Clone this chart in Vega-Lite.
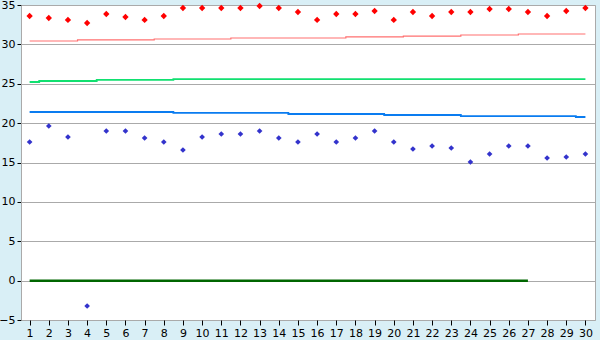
{
  "$schema": "https://vega.github.io/schema/vega-lite/v6.json",
  "autosize": {"type": "none"},
  "width": 574,
  "height": 315,
  "padding": {"left": 21, "top": 5, "right": 5, "bottom": 20},
  "background": "#d9eff6",
  "config": {
    "view": {"fill": "white", "stroke": "#aaaaaa", "strokeWidth": 1},
    "axis": {"labelFont": "DejaVu Sans", "labelFontSize": 11, "labelColor": "#000000", "gridColor": "#aaaaaa", "gridOpacity": 1, "domainColor": "#aaaaaa", "tickColor": "#000000", "title": null, "labelOverlap": false}
  },
  "data": {
    "values": [
      {"day": 1, "high": 33.6, "low": 17.6, "tHigh": 30.43, "tMid": 25.22, "tLow": 21.41, "zero": 0},
      {"day": 2, "high": 33.35, "low": 19.63, "tHigh": 30.43, "tMid": 25.35, "tLow": 21.41, "zero": 0},
      {"day": 3, "high": 33.1, "low": 18.24, "tHigh": 30.43, "tMid": 25.35, "tLow": 21.41, "zero": 0},
      {"day": 4, "high": 32.71, "low": -3.22, "tHigh": 30.56, "tMid": 25.35, "tLow": 21.41, "zero": 0},
      {"day": 5, "high": 33.86, "low": 19.0, "tHigh": 30.56, "tMid": 25.48, "tLow": 21.41, "zero": 0},
      {"day": 6, "high": 33.48, "low": 19.0, "tHigh": 30.56, "tMid": 25.48, "tLow": 21.41, "zero": 0},
      {"day": 7, "high": 33.1, "low": 18.11, "tHigh": 30.56, "tMid": 25.48, "tLow": 21.41, "zero": 0},
      {"day": 8, "high": 33.6, "low": 17.6, "tHigh": 30.68, "tMid": 25.48, "tLow": 21.41, "zero": 0},
      {"day": 9, "high": 34.62, "low": 16.59, "tHigh": 30.68, "tMid": 25.6, "tLow": 21.29, "zero": 0},
      {"day": 10, "high": 34.62, "low": 18.24, "tHigh": 30.68, "tMid": 25.6, "tLow": 21.29, "zero": 0},
      {"day": 11, "high": 34.62, "low": 18.62, "tHigh": 30.68, "tMid": 25.6, "tLow": 21.29, "zero": 0},
      {"day": 12, "high": 34.62, "low": 18.62, "tHigh": 30.81, "tMid": 25.6, "tLow": 21.29, "zero": 0},
      {"day": 13, "high": 34.87, "low": 19.0, "tHigh": 30.81, "tMid": 25.6, "tLow": 21.29, "zero": 0},
      {"day": 14, "high": 34.62, "low": 18.11, "tHigh": 30.81, "tMid": 25.6, "tLow": 21.29, "zero": 0},
      {"day": 15, "high": 34.11, "low": 17.6, "tHigh": 30.81, "tMid": 25.6, "tLow": 21.16, "zero": 0},
      {"day": 16, "high": 33.1, "low": 18.62, "tHigh": 30.81, "tMid": 25.6, "tLow": 21.16, "zero": 0},
      {"day": 17, "high": 33.86, "low": 17.6, "tHigh": 30.81, "tMid": 25.6, "tLow": 21.16, "zero": 0},
      {"day": 18, "high": 33.86, "low": 18.11, "tHigh": 30.94, "tMid": 25.6, "tLow": 21.16, "zero": 0},
      {"day": 19, "high": 34.24, "low": 19.0, "tHigh": 30.94, "tMid": 25.6, "tLow": 21.16, "zero": 0},
      {"day": 20, "high": 33.1, "low": 17.6, "tHigh": 30.94, "tMid": 25.6, "tLow": 21.03, "zero": 0},
      {"day": 21, "high": 34.11, "low": 16.71, "tHigh": 31.06, "tMid": 25.6, "tLow": 21.03, "zero": 0},
      {"day": 22, "high": 33.6, "low": 17.1, "tHigh": 31.06, "tMid": 25.6, "tLow": 21.03, "zero": 0},
      {"day": 23, "high": 34.11, "low": 16.84, "tHigh": 31.06, "tMid": 25.6, "tLow": 21.03, "zero": 0},
      {"day": 24, "high": 34.11, "low": 15.06, "tHigh": 31.19, "tMid": 25.6, "tLow": 20.9, "zero": 0},
      {"day": 25, "high": 34.49, "low": 16.08, "tHigh": 31.19, "tMid": 25.6, "tLow": 20.9, "zero": 0},
      {"day": 26, "high": 34.49, "low": 17.1, "tHigh": 31.19, "tMid": 25.6, "tLow": 20.9, "zero": 0},
      {"day": 27, "high": 34.11, "low": 17.1, "tHigh": 31.32, "tMid": 25.6, "tLow": 20.9, "zero": 0},
      {"day": 28, "high": 33.6, "low": 15.57, "tHigh": 31.32, "tMid": 25.6, "tLow": 20.9, "zero": null},
      {"day": 29, "high": 34.24, "low": 15.7, "tHigh": 31.32, "tMid": 25.6, "tLow": 20.9, "zero": null},
      {"day": 30, "high": 34.62, "low": 16.08, "tHigh": 31.32, "tMid": 25.6, "tLow": 20.78, "zero": null}
    ]
  },
  "encoding": {
    "x": {
      "field": "day", "type": "quantitative",
      "scale": {"domain": [0.55, 30.5], "nice": false, "zero": false},
      "axis": {"values": [1,2,3,4,5,6,7,8,9,10,11,12,13,14,15,16,17,18,19,20,21,22,23,24,25,26,27,28,29,30], "grid": false, "tickSize": 5, "labelPadding": 2, "domain": false, "labelFlush": false}
    }
  },
  "layer": [
    {
      "mark": {"type": "line", "interpolate": "step", "color": "#ff7070", "strokeWidth": 1.2},
      "encoding": {
        "y": {
          "field": "tHigh", "type": "quantitative",
          "scale": {"domain": [-5, 35], "nice": false, "zero": false},
          "axis": {"values": [-5, 0, 5, 10, 15, 20, 25, 30, 35], "grid": true, "tickSize": 4, "labelPadding": 2, "domain": true, "labelFlush": false, "labelOverlap": false}
        }
      }
    },
    {
      "mark": {"type": "line", "interpolate": "step", "color": "#11e070", "strokeWidth": 1.8},
      "encoding": {"y": {"field": "tMid", "type": "quantitative",
          "scale": {"domain": [-5, 35], "nice": false, "zero": false},
          "axis": {"values": [-5, 0, 5, 10, 15, 20, 25, 30, 35], "grid": true, "tickSize": 4, "labelPadding": 2, "domain": true, "labelFlush": false, "labelOverlap": false}}}
    },
    {
      "mark": {"type": "line", "interpolate": "step", "color": "#0a7cf0", "strokeWidth": 1.8},
      "encoding": {"y": {"field": "tLow", "type": "quantitative",
          "scale": {"domain": [-5, 35], "nice": false, "zero": false},
          "axis": {"values": [-5, 0, 5, 10, 15, 20, 25, 30, 35], "grid": true, "tickSize": 4, "labelPadding": 2, "domain": true, "labelFlush": false, "labelOverlap": false}}}
    },
    {
      "mark": {"type": "line", "color": "#006600", "strokeWidth": 2.5},
      "encoding": {"y": {"field": "zero", "type": "quantitative",
          "scale": {"domain": [-5, 35], "nice": false, "zero": false},
          "axis": {"values": [-5, 0, 5, 10, 15, 20, 25, 30, 35], "grid": true, "tickSize": 4, "labelPadding": 2, "domain": true, "labelFlush": false, "labelOverlap": false}}}
    },
    {
      "mark": {"type": "point", "shape": "diamond", "filled": true, "opacity": 1, "color": "#ff0000", "size": 40},
      "encoding": {"y": {"field": "high", "type": "quantitative",
          "scale": {"domain": [-5, 35], "nice": false, "zero": false},
          "axis": {"values": [-5, 0, 5, 10, 15, 20, 25, 30, 35], "grid": true, "tickSize": 4, "labelPadding": 2, "domain": true, "labelFlush": false, "labelOverlap": false}}}
    },
    {
      "mark": {"type": "point", "shape": "diamond", "filled": true, "opacity": 1, "color": "#3333cc", "size": 32},
      "encoding": {"y": {"field": "low", "type": "quantitative",
          "scale": {"domain": [-5, 35], "nice": false, "zero": false},
          "axis": {"values": [-5, 0, 5, 10, 15, 20, 25, 30, 35], "grid": true, "tickSize": 4, "labelPadding": 2, "domain": true, "labelFlush": false, "labelOverlap": false}}}
    }
  ]
}
